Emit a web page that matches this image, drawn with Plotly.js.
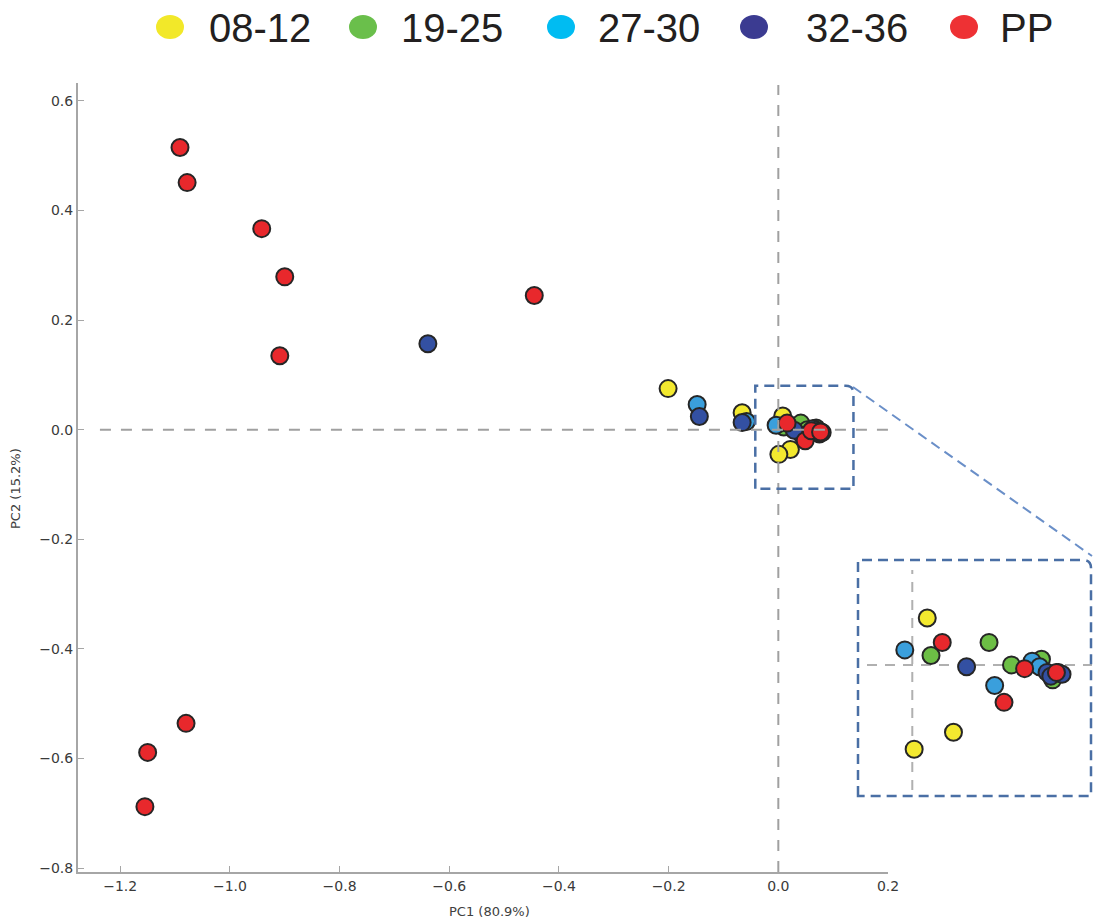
<!DOCTYPE html>
<html><head><meta charset="utf-8">
<script src="https://cdn.plot.ly/plotly-3.0.1.min.js"></script>
<style>html,body{margin:0;padding:0;background:#fff}#chart{width:1093px;height:922px}</style>
</head><body><div id="chart"></div><script>
// ---- data ----
const groupNames = ['08-12', '19-25', '27-30', '32-36', 'PP'];
const x0812 = [-0.201, -0.066, 0.008, 0.022, 0.001];
const y0812 = [0.075, 0.031, 0.025, -0.036, -0.045];
const x1925 = [0.010, 0.041, 0.053, 0.069, 0.075];
const y1925 = [0.005, 0.012, 0.000, 0.003, -0.008];
const x2730 = [-0.148, -0.058, -0.004, 0.044, 0.064, 0.068];
const y2730 = [0.046, 0.015, 0.008, -0.011, 0.002, -0.001];
const x3236 = [-0.639, -0.144, -0.066, 0.029, 0.072, 0.074, 0.078, 0.080];
const y3236 = [0.157, 0.024, 0.013, -0.001, -0.004, -0.006, -0.004, -0.005];
const xPP = [-1.091, -1.078, -0.942, -0.900, -0.909, -0.445, -1.080, -1.150, -1.155, 0.016, 0.049, 0.060, 0.077];
const yPP = [0.515, 0.451, 0.367, 0.279, 0.135, 0.245, -0.536, -0.589, -0.688, 0.012, -0.020, -0.002, -0.004];
const xTicks = [-1.2, -1.0, -0.8, -0.6, -0.4, -0.2, 0.0, 0.2];
const yTicks = [0.6, 0.4, 0.2, 0.0, -0.2, -0.4, -0.6, -0.8];
const xTitle = 'PC1 (80.9%)';
const yTitle = 'PC2 (15.2%)';

// ---- styling ----
const markerColors = ['#f3e92f', '#6cbe45', '#3a9fdc', '#3350a2', '#e8282c'];
const legendColors = ['#f2e829', '#6abf4b', '#00bcf2', '#3b3b91', '#ee3134'];
const W = 1093, H = 922;
const px = v => v / W, py = v => 1 - v / H;

const seriesX = [x0812, x1925, x2730, x3236, xPP];
const seriesY = [y0812, y1925, y2730, y3236, yPP];

const traces = [];
[['x', 'y'], ['x2', 'y2']].forEach(([xa, ya]) => {
  groupNames.forEach((g, i) => {
    traces.push({
      type: 'scatter', mode: 'markers', name: g, showlegend: false,
      x: seriesX[i], y: seriesY[i], xaxis: xa, yaxis: ya,
      marker: {size: 17, color: markerColors[i], line: {color: '#262626', width: 2}},
      hoverinfo: 'x+y+name'
    });
  });
});

const axisCommon = {
  showline: true, linecolor: '#a6a6a6', linewidth: 2,
  ticks: 'inside', ticklen: 6, tickwidth: 1, tickcolor: '#a6a6a6',
  showgrid: false, zeroline: false,
  tickfont: {family: 'DejaVu Sans', size: 14, color: '#3a3a3a'},
  tickformat: '.1f'
};

const shapes = [];
const annotations = [];
// zero lines in main plot
shapes.push({type: 'line', xref: 'x', yref: 'paper', x0: 0, x1: 0, y0: py(872), y1: py(85),
  line: {color: '#a0a0a0', width: 2, dash: '11px,10px'}});
shapes.push({type: 'line', xref: 'x', yref: 'y', x0: -1.237, x1: 0.2, y0: 0, y1: 0,
  line: {color: '#a0a0a0', width: 2, dash: '11px,10px'}});
// zoom region box (data coords) with rounded top-right corner
const bx0 = -0.042, bx1 = 0.137, by0 = -0.108, by1 = 0.080, rx = 0.014, ry = 0.014;
shapes.push({type: 'path', xref: 'x', yref: 'y',
  path: `M${bx0},${by0} L${bx0},${by1} L${bx1 - rx},${by1} Q${bx1},${by1} ${bx1},${by1 - ry} L${bx1},${by0} Z`,
  line: {color: '#4a6fa5', width: 2.5, dash: '10px,6px'}});
// connector
shapes.push({type: 'line', xref: 'paper', yref: 'paper', x0: px(853), y0: py(387), x1: px(1092), y1: py(556),
  line: {color: '#6a8fc8', width: 2, dash: '10px,6px'}});
// inset box
const ix0 = px(858), ix1 = px(1091), iy0 = py(796), iy1 = py(560), irx = px(8), iry = 8 / H;
shapes.push({type: 'path', xref: 'paper', yref: 'paper',
  path: `M${ix0},${iy0} L${ix0},${iy1} L${ix1 - irx},${iy1} Q${ix1},${iy1} ${ix1},${iy1 - iry} L${ix1},${iy0} Z`,
  line: {color: '#4a6fa5', width: 2.5, dash: '10px,6px'}});
// inset crosshairs
shapes.push({type: 'line', xref: 'x2', yref: 'paper', x0: 0, x1: 0, y0: py(790), y1: py(570),
  line: {color: '#b0b0b0', width: 2, dash: '10px,8px'}, layer: 'below'});
shapes.push({type: 'line', xref: 'paper', yref: 'y2', x0: px(867), x1: px(1092), y0: 0, y1: 0,
  line: {color: '#b0b0b0', width: 2, dash: '10px,8px'}, layer: 'below'});

// legend (drawn manually)
const legendMarkX = [170, 363, 561, 754, 964];
const legendTextX = [207, 399, 596, 804, 998];
groupNames.forEach((g, i) => {
  const cx = legendMarkX[i];
  shapes.push({type: 'circle', xref: 'paper', yref: 'paper',
    x0: px(cx - 14), x1: px(cx + 14), y0: py(39), y1: py(15),
    fillcolor: legendColors[i], line: {width: 0}});
  annotations.push({xref: 'paper', yref: 'paper', x: px(legendTextX[i]), y: py(28),
    xanchor: 'left', yanchor: 'middle', showarrow: false, text: g,
    font: {family: 'Liberation Sans, Arial', size: 40, color: '#231f20'}});
});
// axis titles
annotations.push({xref: 'paper', yref: 'paper', x: px(489), y: py(911), xanchor: 'center', yanchor: 'middle',
  showarrow: false, text: xTitle, font: {family: 'DejaVu Sans', size: 13, color: '#404040'}});
annotations.push({xref: 'paper', yref: 'paper', x: px(15), y: py(489), xanchor: 'center', yanchor: 'middle',
  showarrow: false, textangle: -90, text: yTitle, font: {family: 'DejaVu Sans', size: 13, color: '#404040'}});

const layout = {
  width: W, height: H, margin: {l: 0, r: 0, t: 0, b: 0},
  paper_bgcolor: '#ffffff', plot_bgcolor: 'rgba(0,0,0,0)',
  showlegend: false,
  xaxis: Object.assign({}, axisCommon, {domain: [px(78), px(888)], range: [-1.277, 0.2],
    tickvals: xTicks, anchor: 'y'}),
  yaxis: Object.assign({}, axisCommon, {domain: [py(872), py(83)], range: [-0.8073, 0.6328],
    tickvals: yTicks, anchor: 'x'}),
  xaxis2: {domain: [px(858), px(1092)], range: [-0.029, 0.096], visible: false, anchor: 'y2'},
  yaxis2: {domain: [py(796), py(560)], range: [-0.070, 0.056], visible: false, anchor: 'x2'},
  shapes: shapes, annotations: annotations
};

Plotly.newPlot('chart', traces, layout, {displayModeBar: false, staticPlot: true});
</script></body></html>
